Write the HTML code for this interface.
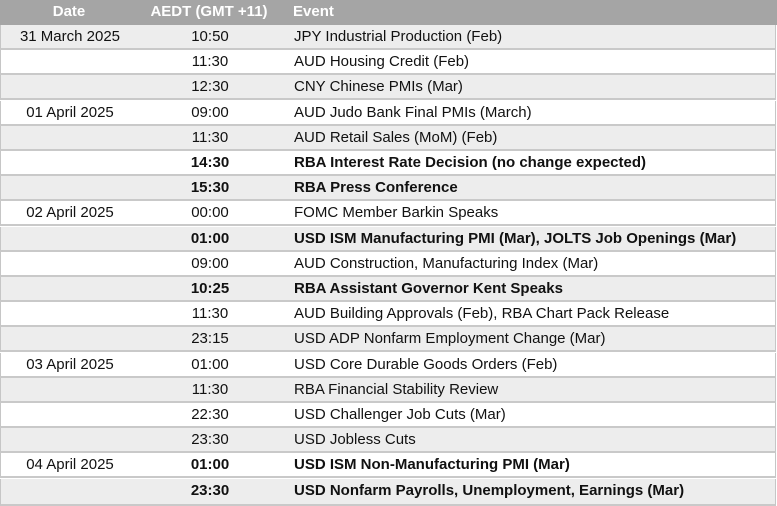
<!DOCTYPE html>
<html><head><meta charset="utf-8"><style>
html,body{margin:0;padding:0;background:#fff;}
body{width:777px;height:506px;position:relative;overflow:hidden;font-family:"Liberation Sans",Arial,sans-serif;font-size:15px;color:#111;}
.hdr{position:absolute;left:0;top:0;width:777px;height:25px;background:#a5a5a5;color:#fff;font-weight:bold;}
.row{position:absolute;left:0;width:776px;height:25px;border-left:1px solid #c6c6c6;border-right:1px solid #c6c6c6;border-bottom:2px solid #c9c9c9;box-sizing:border-box;background:#fff;}
.g{background:#ededed;}
.c{position:absolute;top:0;white-space:nowrap;line-height:24.5px;}
.hdr .c{line-height:24px;}
.d{left:0;width:138px;text-align:center;}
.t{left:140px;width:138px;text-align:center;}
.e{left:293px;}
.b .t,.b .e{font-weight:bold;}
</style></head><body>
<div class="hdr"><div class="c d">Date</div><div class="c t">AEDT (GMT +11)</div><div class="c e">Event</div></div>
<div class="row g" style="top:25px"><div class="c d">31 March 2025</div><div class="c t">10:50</div><div class="c e">JPY Industrial Production (Feb)</div></div>
<div class="row" style="top:50px"><div class="c d"></div><div class="c t">11:30</div><div class="c e">AUD Housing Credit (Feb)</div></div>
<div class="row g" style="top:75px"><div class="c d"></div><div class="c t">12:30</div><div class="c e">CNY Chinese PMIs (Mar)</div></div>
<div class="row" style="top:101px"><div class="c d">01 April 2025</div><div class="c t">09:00</div><div class="c e">AUD Judo Bank Final PMIs (March)</div></div>
<div class="row g" style="top:126px"><div class="c d"></div><div class="c t">11:30</div><div class="c e">AUD Retail Sales (MoM) (Feb)</div></div>
<div class="row b" style="top:151px"><div class="c d"></div><div class="c t">14:30</div><div class="c e">RBA Interest Rate Decision (no change expected)</div></div>
<div class="row g b" style="top:176px"><div class="c d"></div><div class="c t">15:30</div><div class="c e">RBA Press Conference</div></div>
<div class="row" style="top:201px"><div class="c d">02 April 2025</div><div class="c t">00:00</div><div class="c e">FOMC Member Barkin Speaks</div></div>
<div class="row g b" style="top:227px"><div class="c d"></div><div class="c t">01:00</div><div class="c e">USD ISM Manufacturing PMI (Mar), JOLTS Job Openings (Mar)</div></div>
<div class="row" style="top:252px"><div class="c d"></div><div class="c t">09:00</div><div class="c e">AUD Construction, Manufacturing Index (Mar)</div></div>
<div class="row g b" style="top:277px"><div class="c d"></div><div class="c t">10:25</div><div class="c e">RBA Assistant Governor Kent Speaks</div></div>
<div class="row" style="top:302px"><div class="c d"></div><div class="c t">11:30</div><div class="c e">AUD Building Approvals (Feb), RBA Chart Pack Release</div></div>
<div class="row g" style="top:327px"><div class="c d"></div><div class="c t">23:15</div><div class="c e">USD ADP Nonfarm Employment Change (Mar)</div></div>
<div class="row" style="top:353px"><div class="c d">03 April 2025</div><div class="c t">01:00</div><div class="c e">USD Core Durable Goods Orders (Feb)</div></div>
<div class="row g" style="top:378px"><div class="c d"></div><div class="c t">11:30</div><div class="c e">RBA Financial Stability Review</div></div>
<div class="row" style="top:403px"><div class="c d"></div><div class="c t">22:30</div><div class="c e">USD Challenger Job Cuts (Mar)</div></div>
<div class="row g" style="top:428px"><div class="c d"></div><div class="c t">23:30</div><div class="c e">USD Jobless Cuts</div></div>
<div class="row b" style="top:453px"><div class="c d" style="font-weight:normal">04 April 2025</div><div class="c t">01:00</div><div class="c e">USD ISM Non-Manufacturing PMI (Mar)</div></div>
<div class="row g b" style="top:479px;height:27px"><div class="c d"></div><div class="c t">23:30</div><div class="c e">USD Nonfarm Payrolls, Unemployment, Earnings (Mar)</div></div>
</body></html>
